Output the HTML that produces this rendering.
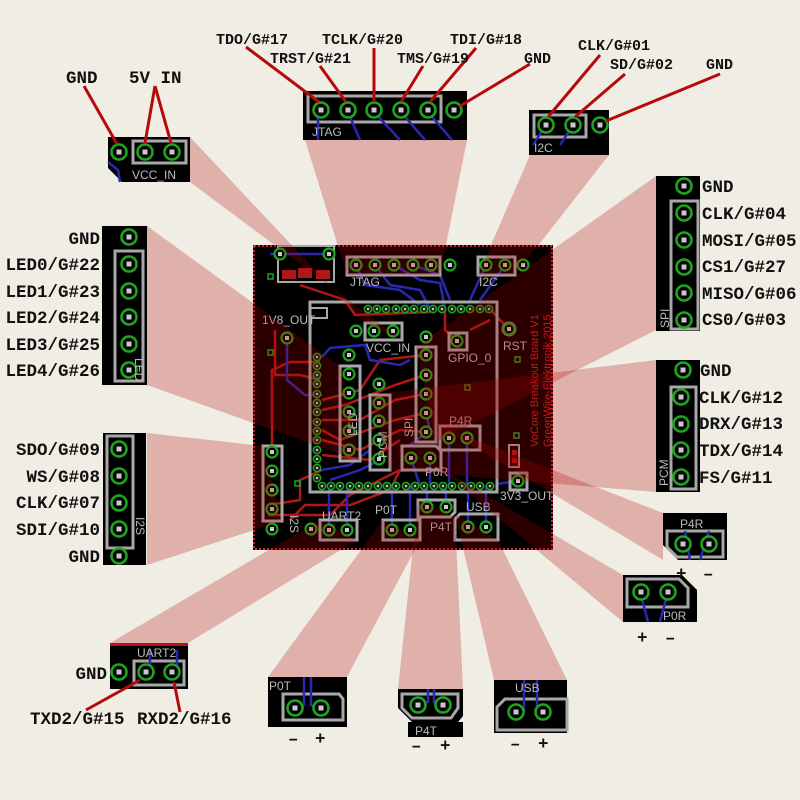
<!DOCTYPE html>
<html><head><meta charset="utf-8"><style>
html,body{margin:0;padding:0;background:#f0ede4}
svg{display:block}
.l{font-family:"Liberation Mono",monospace;font-weight:bold;font-size:17.5px;fill:#111}
.t{font-size:15px}
.s{font-family:"Liberation Sans",sans-serif;font-size:12px;fill:#bbb}
.r{font-family:"Liberation Sans",sans-serif;font-size:11px;fill:#c22}
</style></head><body>
<svg width="800" height="800" viewBox="0 0 800 800" xmlns="http://www.w3.org/2000/svg">
<defs>
<g id="p"><circle r="7.5" fill="#000" stroke="#1ea51e" stroke-width="2.6"/><rect x="-2.5" y="-2.5" width="5" height="5" fill="#c8c8d0"/></g>
<g id="q"><circle r="5.5" fill="#000" stroke="#1ea51e" stroke-width="2.2"/><rect x="-2" y="-2" width="4" height="4" fill="#c8c8d0"/></g>
<g id="v"><circle r="3.6" fill="#000" stroke="#1ea51e" stroke-width="1.6"/><rect x="-1.3" y="-1.3" width="2.6" height="2.6" fill="#bbb"/></g>
</defs>
<rect width="800" height="800" fill="#f0ede4"/>

<rect x="253" y="245" width="300" height="305" fill="#000"/>
<rect x="254" y="246" width="298" height="303" fill="none" stroke="#d02030" stroke-width="2" stroke-dasharray="2,2"/>
<g stroke="#b01818" stroke-width="2.5" fill="none">
<path d="M300 285 L315 290 L345 300 L355 315 L430 312"/>
<path d="M275 330 L275 375 L300 375 L320 380"/>
<path d="M272 452 L272 370 L290 362 L320 362"/>
<path d="M290 520 L305 505 L350 505 L390 490 L400 470"/>
<path d="M322 400 L360 390 L380 360 L426 355"/>
<path d="M322 410 L345 405 L395 385 L426 375"/>
<path d="M322 420 L360 420 L395 400 L426 394"/>
<path d="M322 430 L340 440 L395 420 L426 413"/>
<path d="M322 440 L360 450 L400 430 L426 432"/>
<path d="M322 455 L370 460 L400 440"/>
<path d="M268 505 L300 500 L300 480 L322 470"/>
<path d="M268 515 L330 515 L350 495 L400 470"/>
<path d="M445 309 L445 330 L457 341"/>
<path d="M490 309 L500 320 L509 329"/>
<path d="M470 330 L490 320"/>
</g>
<g stroke="#2828b0" stroke-width="2.5" fill="none">
<path d="M270 254 L335 254"/>
<path d="M287 338 L287 380 L305 395 L322 395"/>
<path d="M322 357 L330 348 L365 345 L370 360 L400 365 L410 360"/>
<path d="M356 265 L365 285 L400 290 L420 305"/>
<path d="M375 265 L390 285 L420 290 L430 309"/>
<path d="M394 265 L420 280 L440 283 L445 309"/>
<path d="M413 265 L440 275 L450 300"/>
<path d="M486 265 L470 300"/>
<path d="M505 265 L480 300"/>
<path d="M330 480 L360 470 L380 460"/>
<path d="M322 470 L350 465 L370 450"/>
<path d="M410 445 L430 430 L426 413"/>
<path d="M329 530 L329 486"/>
<path d="M347 530 L347 486"/>
<path d="M392 530 L392 486"/>
<path d="M410 530 L410 486"/>
<path d="M427 507 L427 486"/>
<path d="M446 507 L446 486"/>
<path d="M468 527 L468 486"/>
<path d="M486 527 L486 486"/>
<path d="M449 438 L449 486"/><path d="M467 438 L467 486"/>
<path d="M411 458 L420 486"/><path d="M430 458 L430 486"/>
<path d="M497 484 L518 481"/>
</g>
<g fill="none" stroke="#a8a8a8" stroke-width="3">
<rect x="278" y="246" width="56" height="36" stroke-width="2"/>
<rect x="310" y="302" width="187" height="190"/>
<rect x="347" y="257" width="93" height="18"/>
<rect x="478" y="257" width="37" height="18"/>
<rect x="365" y="323" width="37" height="17"/>
<rect x="340" y="366" width="20" height="95"/>
<rect x="370" y="395" width="20" height="75"/>
<rect x="416" y="347" width="20" height="95"/>
<rect x="440" y="426" width="40" height="24"/>
<path d="M402 446 L436 446 L441 451 L441 470 L402 470 Z"/>
<rect x="263" y="446" width="19" height="75"/>
<rect x="320" y="520" width="37" height="20"/>
<rect x="383" y="520" width="37" height="20"/>
<path d="M418 500 L455 500 L455 512 L450 517 L418 517 Z"/>
<path d="M460 514 L498 514 L498 540 L455 540 L455 519 Z"/>
<rect x="449" y="333" width="18" height="17"/>
<rect x="510" y="473" width="17" height="17"/>
<rect x="509" y="445" width="10" height="22" stroke-width="2"/>
<rect x="310" y="308" width="17" height="10" stroke-width="2"/>
</g>
<rect x="282" y="270" width="14" height="9" fill="#b01818"/><rect x="316" y="270" width="14" height="9" fill="#b01818"/>
<rect x="298" y="268" width="14" height="10" fill="#b01818"/>
<rect x="512" y="450" width="5" height="5" fill="#b01818"/><rect x="512" y="458" width="5" height="5" fill="#b01818"/>
<circle cx="509" cy="329" r="6" fill="none" stroke="#a08070" stroke-width="3"/>
<g>
<use href="#q" x="280" y="254"/><use href="#q" x="329" y="254"/>
<use href="#q" x="356" y="265"/><use href="#q" x="375" y="265"/><use href="#q" x="394" y="265"/><use href="#q" x="413" y="265"/><use href="#q" x="431" y="265"/><use href="#q" x="450" y="265"/>
<use href="#q" x="486" y="265"/><use href="#q" x="505" y="265"/><use href="#q" x="523" y="265"/>
<use href="#q" x="287" y="338"/><use href="#q" x="356" y="331"/><use href="#q" x="374" y="331"/><use href="#q" x="393" y="331"/>
<use href="#q" x="426" y="337"/><use href="#q" x="457" y="341"/><use href="#q" x="509" y="329"/>
<use href="#q" x="349" y="355"/><use href="#q" x="349" y="374"/><use href="#q" x="349" y="393"/><use href="#q" x="349" y="412"/><use href="#q" x="349" y="431"/><use href="#q" x="349" y="450"/>
<use href="#q" x="379" y="384"/><use href="#q" x="379" y="403"/><use href="#q" x="379" y="421"/><use href="#q" x="379" y="440"/><use href="#q" x="379" y="459"/>
<use href="#q" x="426" y="355"/><use href="#q" x="426" y="375"/><use href="#q" x="426" y="394"/><use href="#q" x="426" y="413"/><use href="#q" x="426" y="432"/>
<use href="#q" x="449" y="438"/><use href="#q" x="467" y="438"/>
<use href="#q" x="411" y="458"/><use href="#q" x="430" y="458"/>
<use href="#q" x="272" y="452"/><use href="#q" x="272" y="471"/><use href="#q" x="272" y="490"/><use href="#q" x="272" y="509"/><use href="#q" x="272" y="529"/>
<use href="#q" x="311" y="529"/><use href="#q" x="329" y="530"/><use href="#q" x="347" y="530"/>
<use href="#q" x="392" y="530"/><use href="#q" x="410" y="530"/>
<use href="#q" x="427" y="507"/><use href="#q" x="446" y="507"/>
<use href="#q" x="468" y="527"/><use href="#q" x="486" y="527"/>
<use href="#q" x="518" y="481"/>
</g>
<g>
<use href="#v" x="368" y="309"/><use href="#v" x="377" y="309"/><use href="#v" x="386" y="309"/><use href="#v" x="396" y="309"/><use href="#v" x="405" y="309"/><use href="#v" x="414" y="309"/><use href="#v" x="424" y="309"/><use href="#v" x="433" y="309"/><use href="#v" x="442" y="309"/><use href="#v" x="452" y="309"/><use href="#v" x="461" y="309"/><use href="#v" x="470" y="309"/><use href="#v" x="480" y="309"/><use href="#v" x="489" y="309"/>
<use href="#v" x="322" y="486"/><use href="#v" x="331" y="486"/><use href="#v" x="340" y="486"/><use href="#v" x="350" y="486"/><use href="#v" x="359" y="486"/><use href="#v" x="368" y="486"/><use href="#v" x="378" y="486"/><use href="#v" x="387" y="486"/><use href="#v" x="396" y="486"/><use href="#v" x="406" y="486"/><use href="#v" x="415" y="486"/><use href="#v" x="424" y="486"/><use href="#v" x="434" y="486"/><use href="#v" x="443" y="486"/><use href="#v" x="452" y="486"/><use href="#v" x="462" y="486"/><use href="#v" x="471" y="486"/><use href="#v" x="480" y="486"/><use href="#v" x="490" y="486"/>
<use href="#v" x="317" y="357"/><use href="#v" x="317" y="366"/><use href="#v" x="317" y="375"/><use href="#v" x="317" y="384"/><use href="#v" x="317" y="394"/><use href="#v" x="317" y="403"/><use href="#v" x="317" y="412"/><use href="#v" x="317" y="422"/><use href="#v" x="317" y="431"/><use href="#v" x="317" y="440"/><use href="#v" x="317" y="450"/><use href="#v" x="317" y="459"/><use href="#v" x="317" y="468"/><use href="#v" x="317" y="478"/>
</g>
<g fill="none" stroke="#1ea51e" stroke-width="1.5">
<rect x="268" y="274" width="5" height="5"/><rect x="268" y="350" width="5" height="5"/><rect x="295" y="481" width="5" height="5"/><rect x="515" y="357" width="5" height="5"/><rect x="465" y="385" width="5" height="5"/><rect x="514" y="433" width="5" height="5"/>
</g>
<text class="s" x="350" y="286" font-size="11">JTAG</text>
<text class="s" x="479" y="286" font-size="11">I2C</text>
<text class="s" x="262" y="324" font-size="11">1V8_OUT</text>
<text class="s" x="366" y="352" font-size="11">VCC_IN</text>
<text class="s" x="448" y="362" font-size="11">GPIO_0</text>
<text class="s" x="503" y="350" font-size="11">RST</text>
<text class="s" x="449" y="425" font-size="11">P4R</text>
<text class="s" x="425" y="476" font-size="11">P0R</text>
<text class="s" x="500" y="500" font-size="11">3V3_OUT</text>
<text class="s" x="322" y="520" font-size="11">UART2</text>
<text class="s" x="375" y="514" font-size="11">P0T</text>
<text class="s" x="430" y="531" font-size="11">P4T</text>
<text class="s" x="466" y="511" font-size="11">USB</text>
<text class="s" font-size="11" transform="translate(357,436) rotate(-90)">LED</text>
<text class="s" font-size="11" transform="translate(387,458) rotate(-90)">PCM</text>
<text class="s" font-size="11" transform="translate(413,437) rotate(-90)">SPI</text>
<text class="s" font-size="10" transform="translate(290,515) rotate(90)">I2S</text>
<text class="r" transform="translate(538,447) rotate(-90)">VoCore Breakout Board V1</text>
<text class="r" transform="translate(551,447) rotate(-90)">GreenWire-Elektronik,2015</text>

<g fill="rgba(175,0,0,0.25)">
<polygon points="190,137 190,182 402,340 365,323"/>
<polygon points="305,140 467,140 440,275 347,275"/>
<polygon points="530,155 609,155 515,275 478,275"/>
<polygon points="656,176 656,330 436,442 416,347"/>
<polygon points="656,360 656,492 390,470 370,395"/>
<polygon points="147,226 147,385 360,461 340,366"/>
<polygon points="147,433 147,565 282,521 263,446"/>
<polygon points="663,513 663,560 480,450 440,426"/>
<polygon points="623,575 623,622 441,470 402,446"/>
<polygon points="110,643 188,643 357,540 320,520"/>
<polygon points="268,677 347,677 420,540 383,520"/>
<polygon points="398,689 463,689 455,517 418,500"/>
<polygon points="494,680 567,680 498,540 455,514"/>
</g>

<g fill="#000">
<path d="M108 137 H190 V182 H122 L108 168 Z"/>
<rect x="303" y="91" width="164" height="49"/>
<rect x="529" y="110" width="80" height="45"/>
<rect x="656" y="176" width="44" height="155"/>
<rect x="656" y="360" width="44" height="132"/>
<rect x="102" y="226" width="45" height="159"/>
<rect x="103" y="433" width="43" height="132"/>
<path d="M663 513 H727 V560 H678 L663 545 Z"/>
<path d="M623 575 H682 L697 590 V622 H623 Z"/>
<rect x="110" y="643" width="78" height="46"/>
<path d="M268 677 H347 V727 H268 Z"/>
<path d="M398 689 H463 V716 L458 722 H463 V737 H408 V722 H412 L398 708 Z"/>
<path d="M494 680 H567 V733 H494 V700 Z"/>
</g>
<rect x="110" y="643" width="78" height="3" fill="#b01818"/>
<g fill="none" stroke="#a8a8a8" stroke-width="3">
<rect x="133" y="141" width="53" height="22"/>
<rect x="308" y="96" width="133" height="26"/>
<rect x="534" y="115" width="52" height="22"/>
<rect x="671" y="201" width="27" height="128"/>
<rect x="671" y="387" width="25" height="102"/>
<rect x="115" y="251" width="28" height="130"/>
<rect x="107" y="436" width="26" height="112"/>
<path d="M667 531 H723 V557 H677 L667 547 Z"/>
<path d="M627 579 H679 L688 588 V607 H627 Z"/>
<rect x="134" y="661" width="50" height="24"/>
<path d="M283 694 H339 L343 699 V720 H283 Z"/>
<path d="M402 694 H458 V708 L451 718 H412 L402 708 Z"/>
<path d="M505 699 H567 V730 H497 V707 Z"/>
</g>
<g fill="none" stroke="#2828b0" stroke-width="2.5">
<path d="M318 112 L318 140"/><path d="M348 112 L360 140"/><path d="M374 112 L400 140"/><path d="M401 112 L425 140"/><path d="M428 112 L452 140"/>
<path d="M546 125 L533 145"/><path d="M573 125 L560 145"/>
<path d="M685 531 L690 560"/><path d="M709 531 L700 560"/>
<path d="M641 595 L648 622"/><path d="M667 595 L660 622"/>
<path d="M304 677 V705 L295 710"/><path d="M311 677 V705 L321 710"/>
<path d="M428 689 V702 L415 706"/><path d="M434 689 V702 L441 706"/>
<path d="M524 680 V712"/><path d="M537 680 V712"/>
<path d="M150 650 V672"/><path d="M177 650 V672"/>
<path d="M108 162 L118 170 L120 182"/>
</g>
<g>
<use href="#p" x="119" y="152"/><use href="#p" x="145" y="152"/><use href="#p" x="172" y="152"/>
<use href="#p" x="321" y="110"/><use href="#p" x="348" y="110"/><use href="#p" x="374" y="110"/><use href="#p" x="401" y="110"/><use href="#p" x="428" y="110"/><use href="#p" x="454" y="110"/>
<use href="#p" x="546" y="125"/><use href="#p" x="573" y="125"/><use href="#p" x="600" y="125"/>
<use href="#p" x="684" y="186"/><use href="#p" x="684" y="213"/><use href="#p" x="684" y="240"/><use href="#p" x="684" y="267"/><use href="#p" x="684" y="293"/><use href="#p" x="684" y="320"/>
<use href="#p" x="683" y="370"/><use href="#p" x="681" y="397"/><use href="#p" x="681" y="424"/><use href="#p" x="681" y="450"/><use href="#p" x="681" y="477"/>
<use href="#p" x="129" y="237"/><use href="#p" x="129" y="264"/><use href="#p" x="129" y="291"/><use href="#p" x="129" y="317"/><use href="#p" x="129" y="344"/><use href="#p" x="129" y="370"/>
<use href="#p" x="119" y="449"/><use href="#p" x="119" y="476"/><use href="#p" x="119" y="503"/><use href="#p" x="119" y="529"/><use href="#p" x="119" y="556"/>
<use href="#p" x="683" y="544"/><use href="#p" x="709" y="544"/>
<use href="#p" x="641" y="592"/><use href="#p" x="668" y="592"/>
<use href="#p" x="119" y="672"/><use href="#p" x="146" y="672"/><use href="#p" x="172" y="672"/>
<use href="#p" x="295" y="708"/><use href="#p" x="321" y="708"/>
<use href="#p" x="418" y="705"/><use href="#p" x="443" y="705"/>
<use href="#p" x="516" y="712"/><use href="#p" x="543" y="712"/>
</g>
<text class="s" x="132" y="179" font-size="15">VCC_IN</text>
<text class="s" x="312" y="136" font-size="15">JTAG</text>
<text class="s" x="534" y="152" font-size="15">I2C</text>
<text class="s" x="680" y="528" font-size="15">P4R</text>
<text class="s" x="663" y="620" font-size="15">P0R</text>
<text class="s" x="137" y="657" font-size="15">UART2</text>
<text class="s" x="269" y="690" font-size="15">P0T</text>
<text class="s" x="415" y="735" font-size="15">P4T</text>
<text class="s" x="515" y="692" font-size="15">USB</text>
<text class="s" font-size="15" transform="translate(669,328) rotate(-90)">SPI</text>
<text class="s" font-size="15" transform="translate(668,486) rotate(-90)">PCM</text>
<text class="s" font-size="13" transform="translate(135,358) rotate(90)">LED</text>
<text class="s" font-size="12" transform="translate(136,517) rotate(90)">I2S</text>

<g stroke="#b40a0a" stroke-width="3" fill="none">
<path d="M84 86 L117 144"/><path d="M155 86 L145 143"/><path d="M155 86 L171 143"/>
<path d="M246 47 L319 102"/><path d="M320 66 L346 102"/><path d="M374 48 L374 102"/><path d="M423 66 L401 102"/><path d="M476 48 L430 102"/><path d="M530 64 L460 106"/>
<path d="M600 55 L548 117"/><path d="M625 74 L575 117"/><path d="M720 74 L606 121"/>
<path d="M86 710 L140 680"/><path d="M180 712 L174 682"/>
</g>

<g class="l">
<text x="66" y="83">GND</text><text x="129" y="83">5V IN</text>
<g class="t">
<text x="216" y="44">TDO/G#17</text><text x="270" y="63">TRST/G#21</text><text x="322" y="44">TCLK/G#20</text><text x="397" y="63">TMS/G#19</text><text x="450" y="44">TDI/G#18</text><text x="524" y="63">GND</text>
<text x="578" y="50">CLK/G#01</text><text x="610" y="69">SD/G#02</text><text x="706" y="69">GND</text>
</g>
<text x="702" y="192">GND</text><text x="702" y="219">CLK/G#04</text><text x="702" y="246">MOSI/G#05</text><text x="702" y="272">CS1/G#27</text><text x="702" y="299">MISO/G#06</text><text x="702" y="325">CS0/G#03</text>
<text x="700" y="376">GND</text><text x="699" y="403">CLK/G#12</text><text x="699" y="429">DRX/G#13</text><text x="699" y="456">TDX/G#14</text><text x="699" y="483">FS/G#11</text>
<g text-anchor="end">
<text x="100" y="244">GND</text><text x="100" y="270">LED0/G#22</text><text x="100" y="297">LED1/G#23</text><text x="100" y="323">LED2/G#24</text><text x="100" y="350">LED3/G#25</text><text x="100" y="376">LED4/G#26</text>
<text x="100" y="455">SDO/G#09</text><text x="100" y="482">WS/G#08</text><text x="100" y="508">CLK/G#07</text><text x="100" y="535">SDI/G#10</text><text x="100" y="562">GND</text>
<text x="107" y="679">GND</text>
</g>
<text x="30" y="724">TXD2/G#15</text><text x="137" y="724">RXD2/G#16</text>
<text x="676" y="579">+</text><text x="703" y="579">–</text>
<text x="637" y="643">+</text><text x="665" y="643">–</text>
<text x="288" y="744">–</text><text x="315" y="744">+</text>
<text x="411" y="751">–</text><text x="440" y="751">+</text>
<text x="510" y="749">–</text><text x="538" y="749">+</text>
</g>
</svg>
</body></html>
